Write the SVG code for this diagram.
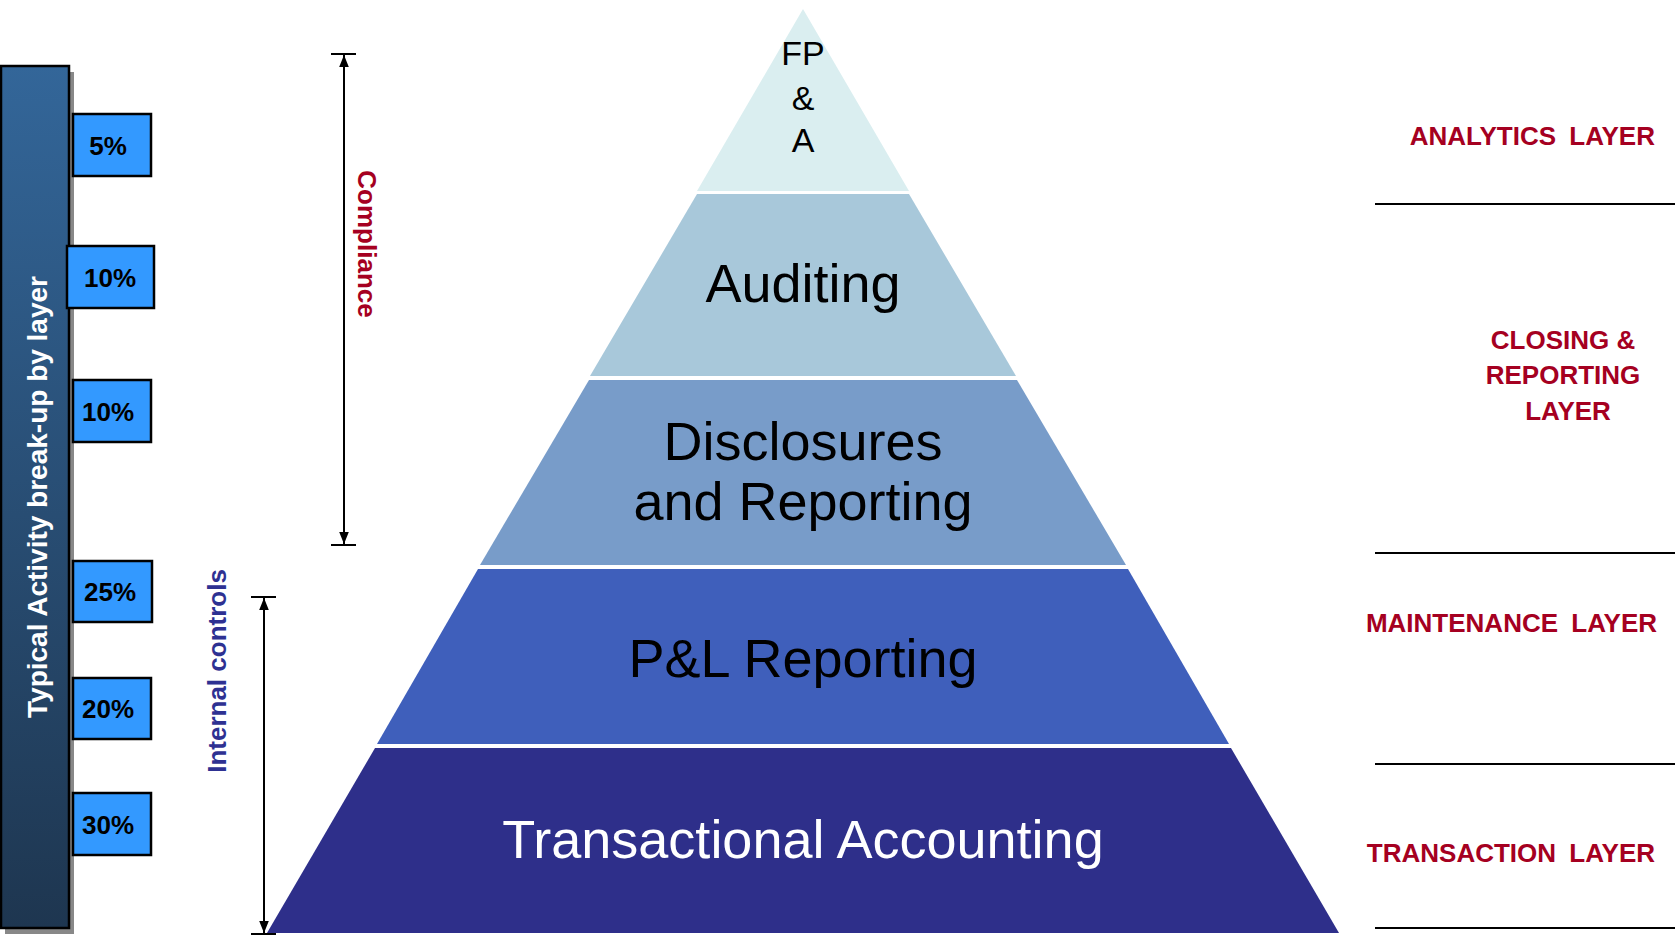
<svg xmlns="http://www.w3.org/2000/svg" width="1675" height="947" viewBox="0 0 1675 947">
<defs>
<linearGradient id="bar" x1="0" y1="0" x2="0" y2="1"><stop offset="0" stop-color="#336699"/><stop offset="1" stop-color="#1e3650"/></linearGradient>
<marker id="ah" markerWidth="10" markerHeight="10" refX="5" refY="9" orient="auto-start-reverse" markerUnits="userSpaceOnUse"><path d="M0,0 L10,0 L5,10 Z" transform="rotate(180 5 5)" fill="#000"/></marker>
<marker id="arr" viewBox="0 0 10 10" refX="10" refY="5" markerWidth="12" markerHeight="12" orient="auto-start-reverse" markerUnits="userSpaceOnUse"><path d="M0,1 L10,5 L0,9 Z" fill="#000"/></marker>
</defs>
<style>
text{font-family:"Liberation Sans",Arial,sans-serif}
.lt{font-size:54px;text-anchor:middle;fill:#000}
.pct{fill:#3399ff;stroke:#000;stroke-width:2.5}
.pt{font-size:26px;font-weight:bold;text-anchor:middle;fill:#000}
.rl{font-size:26px;font-weight:bold;fill:#a50021}
.ln{stroke:#000;stroke-width:2}
</style>
<rect width="1675" height="947" fill="#fff"/>
<g id="layer-fpa"><polygon points="803,9 909,191 697,191" fill="#daeef0"/>
<text x="803" y="65" style="font-size:34px;text-anchor:middle">FP</text>
<text x="803" y="110" style="font-size:34px;text-anchor:middle">&amp;</text>
<text x="803" y="152" style="font-size:34px;text-anchor:middle">A</text></g>
<g id="layer-auditing"><polygon points="697,194 909,194 1016,376 590,376" fill="#a8c8da"/>
<text class="lt" x="803" y="302">Auditing</text></g>
<g id="layer-disclosures"><polygon points="589,380 1017,380 1126,565 480,565" fill="#789cc9"/>
<text class="lt" x="803" y="460">Disclosures</text><text class="lt" x="803" y="520">and Reporting</text></g>
<g id="layer-pl"><polygon points="478,569 1128,569 1229,744 377,744" fill="#3f5fbb"/>
<text class="lt" x="803" y="677">P&amp;L Reporting</text></g>
<g id="layer-transactional"><polygon points="375,748 1231,748 1339,933 267,933" fill="#2e2f8a"/>
<text class="lt" x="803" y="858" fill="#fff" style="fill:#fff">Transactional Accounting</text></g>
<g id="activity-bar"><rect x="5" y="72" width="69" height="862" fill="#888"/><rect x="1" y="66" width="68" height="862" fill="url(#bar)" stroke="#000" stroke-width="2.5"/>
<text transform="translate(47,497) rotate(-90)" style="font-size:28px;font-weight:bold;fill:#fff;text-anchor:middle">Typical Activity break-up by layer</text></g>
<g id="percentages">
<rect class="pct" x="73" y="114" width="78" height="62"/><text class="pt" x="108" y="155">5%</text>
<rect class="pct" x="67" y="246" width="87" height="62"/><text class="pt" x="110" y="287">10%</text>
<rect class="pct" x="73" y="380" width="78" height="62"/><text class="pt" x="108" y="421">10%</text>
<rect class="pct" x="73" y="561" width="79" height="61"/><text class="pt" x="110" y="601">25%</text>
<rect class="pct" x="73" y="678" width="78" height="61"/><text class="pt" x="108" y="718">20%</text>
<rect class="pct" x="73" y="793" width="78" height="62"/><text class="pt" x="108" y="834">30%</text>
</g>
<g id="connectors">
<line class="ln" x1="331" y1="54" x2="356" y2="54"/><line class="ln" x1="331" y1="545" x2="356" y2="545"/>
<line class="ln" x1="344" y1="55" x2="344" y2="544" marker-start="url(#arr)" marker-end="url(#arr)"/>
<line class="ln" x1="251" y1="597" x2="276" y2="597"/><line class="ln" x1="251" y1="934" x2="276" y2="934"/>
<line class="ln" x1="264" y1="598" x2="264" y2="933" marker-start="url(#arr)" marker-end="url(#arr)"/>
<line class="ln" x1="1375" y1="204" x2="1675" y2="204"/>
<line class="ln" x1="1375" y1="553" x2="1675" y2="553"/>
<line class="ln" x1="1375" y1="764" x2="1675" y2="764"/>
<line class="ln" x1="1375" y1="928" x2="1675" y2="928"/>
</g>
<g id="side-labels">
<text transform="translate(358,244) rotate(90)" style="font-size:26px;font-weight:bold;fill:#a50021;text-anchor:middle">Compliance</text>
<text transform="translate(226,671) rotate(-90)" style="font-size:26px;font-weight:bold;fill:#2e3192;text-anchor:middle">Internal controls</text>
</g>
<g id="layer-labels">
<text class="rl" x="1655" y="145" text-anchor="end" word-spacing="6">ANALYTICS LAYER</text>
<text class="rl" x="1563" y="349" text-anchor="middle">CLOSING &amp;</text>
<text class="rl" x="1563" y="384" text-anchor="middle">REPORTING</text>
<text class="rl" x="1568" y="420" text-anchor="middle">LAYER</text>
<text class="rl" x="1657" y="632" text-anchor="end" word-spacing="6">MAINTENANCE LAYER</text>
<text class="rl" x="1655" y="862" text-anchor="end" word-spacing="6">TRANSACTION LAYER</text>
</g>
</svg>
